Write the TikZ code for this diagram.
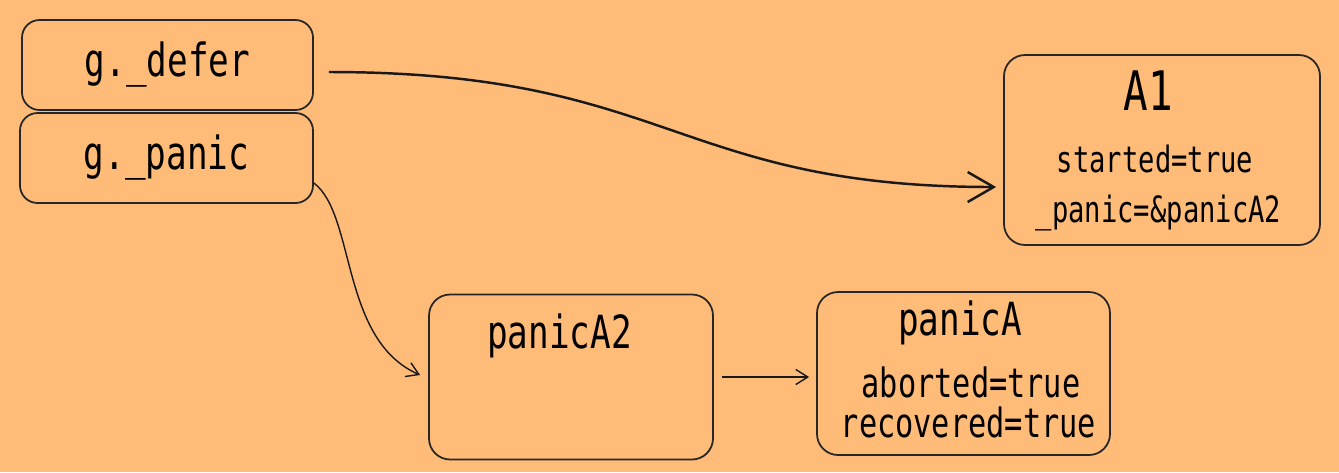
\documentclass[tikz,border=0pt]{standalone}
\usepackage{fontspec}
\newfontfamily\handfont[FakeStretch=0.75]{DejaVu Sans Mono}
\usepackage{xcolor}
\usepackage{tikz}
\usetikzlibrary{arrows.meta,calc}
\definecolor{bgorange}{RGB}{255,187,120}

\begin{document}
\begin{tikzpicture}[x=1cm,y=1cm,
    box/.style={draw=black!85,line width=0.5pt,rounded corners=5pt,inner sep=0pt},
    big/.style={font=\handfont\fontsize{13}{15}\selectfont},
    head/.style={font=\handfont\fontsize{15.5}{18}\selectfont},
    small/.style={font=\handfont\fontsize{11.5}{13}\selectfont},
    tiny/.style={font=\handfont\fontsize{10.3}{12}\selectfont},
    link/.style={draw=black!90,line width=0.4pt,-{Straight Barb[length=1.2mm,width=1.5mm]}}]
    \def\W{13.39}\def\H{4.72}
    % Background
    \fill[bgorange] (0,0) rectangle (\W,\H);
    \useasboundingbox (0,0) rectangle (\W,\H);
    % g._defer / g._panic slots
    \node[box,big,minimum width=2.91cm,minimum height=0.90cm] (dfr) at (1.675,4.07) {g.\_defer};
    \node[box,big,minimum width=2.93cm,minimum height=0.90cm] (gpn) at (1.665,3.14) {g.\_panic};
    % A1 record
    \node[box,rounded corners=6pt,minimum width=3.16cm,minimum height=1.90cm] (A1) at (11.62,3.22) {};
    \node[head,anchor=base] (A1t) at (11.48,3.62) {A1};
    \node[tiny,anchor=base] (A1s) at (11.55,3.00) {started=true};
    \node[tiny,anchor=base] (A1p) at (11.585,2.50) {\_panic=\&panicA2};
    % panicA2 record
    \node[box,rounded corners=6pt,minimum width=2.84cm,minimum height=1.65cm] (pA2) at (5.71,0.95) {};
    \node[big,anchor=base] (pA2t) at (5.595,1.24) {panicA2};
    % panicA record
    \node[box,rounded corners=6pt,minimum width=2.93cm,minimum height=1.63cm] (pA) at (9.635,0.985) {};
    \node[big,anchor=base] (pAt) at (9.60,1.37) {panicA};
    \node[small,anchor=base] (pAa) at (9.71,0.75) {aborted=true};
    \node[small,anchor=base] (pAr) at (9.685,0.35) {recovered=true};
    % Links
    \draw[link,line width=0.7pt,-{Straight Barb[length=2.6mm,width=3mm]}]
        ([shift={(0.15,-0.07)}]dfr.east) .. controls +(3.4,0) and +(-3.2,0) .. ([shift={(-0.07,-0.37)}]A1.west);
    \draw[link] ([yshift=-0.25cm]gpn.east) .. controls +(0.42,-0.32) and +(-0.8,0.35) .. ([shift={(-0.08,0.02)}]pA2.west);
    \draw[link] ([xshift=0.08cm]pA2.east) -- ([xshift=-0.07cm]pA.west |- pA2.east);
\end{tikzpicture}
\end{document}
